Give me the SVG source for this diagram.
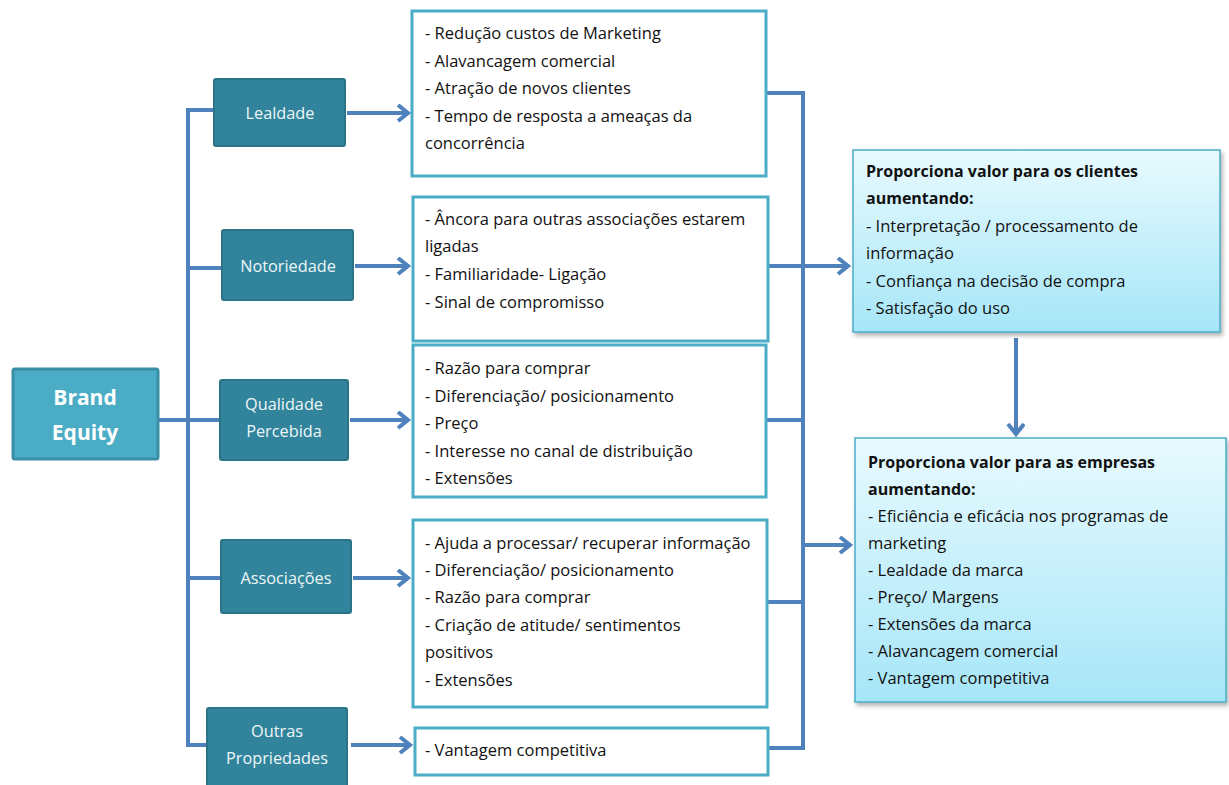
<svg xmlns="http://www.w3.org/2000/svg" width="1229" height="785" viewBox="0 0 1229 785">
  <defs>
    <marker id="arrow" markerUnits="userSpaceOnUse" markerWidth="16" markerHeight="20" refX="12" refY="9" orient="auto">
      <path d="M2,1 L12,9 L2,17" fill="none" stroke="#4f81bd" stroke-width="4" stroke-linejoin="miter"/>
    </marker>
    <linearGradient id="lightFill" x1="0" y1="0" x2="0" y2="1">
      <stop offset="0" stop-color="#e8fafe"/>
      <stop offset="1" stop-color="#a6e6f8"/>
    </linearGradient>
    <filter id="shadow" x="-5%" y="-5%" width="115%" height="115%">
      <feDropShadow dx="2" dy="3" stdDeviation="2" flood-color="#000" flood-opacity="0.3"/>
    </filter>
  </defs>
  <style>
    .conn { fill: none; stroke: #4f81bd; stroke-width: 4; }
    .node rect { fill: #31849b; stroke: #2b7488; stroke-width: 2; }
    .node text { fill: #eef6f8; font-family: "Open Sans", "Liberation Sans", sans-serif; font-size: 16.3px; text-anchor: middle; }
    .list rect { fill: #ffffff; stroke: #4bacc6; stroke-width: 3; }
    .list text { fill: #111111; font-family: "Open Sans", "Liberation Sans", sans-serif; font-size: 16.5px; }
    .value rect { fill: url(#lightFill); stroke: #4bacc6; stroke-width: 1.5; filter: url(#shadow); }
    .value text { fill: #111111; font-family: "Open Sans", "Liberation Sans", sans-serif; font-size: 16.5px; }
    .value .head { font-weight: bold; font-size: 16px; }
  </style>

  <rect width="1229" height="785" fill="#ffffff"/>

  <!-- connectors -->
  <g id="connectors">
    <path class="conn" d="M158,420 H188"/>
    <path class="conn" d="M214,110 H188 V745 H207"/>
    <path class="conn" d="M188,268 H222"/>
    <path class="conn" d="M188,420 H220"/>
    <path class="conn" d="M188,578 H221"/>
    <path class="conn" d="M347,113 H408" marker-end="url(#arrow)"/>
    <path class="conn" d="M355,266 H408" marker-end="url(#arrow)"/>
    <path class="conn" d="M350,420 H408" marker-end="url(#arrow)"/>
    <path class="conn" d="M353,578 H408" marker-end="url(#arrow)"/>
    <path class="conn" d="M351,745 H410" marker-end="url(#arrow)"/>
    <path class="conn" d="M767,93 H803 V748 H768"/>
    <path class="conn" d="M767,420 H803"/>
    <path class="conn" d="M767,602 H803"/>
    <path class="conn" d="M766,266 H848" marker-end="url(#arrow)"/>
    <path class="conn" d="M803,545 H850" marker-end="url(#arrow)"/>
    <path class="conn" d="M1016,338 V434" marker-end="url(#arrow)"/>
  </g>

  <!-- root -->
  <g id="brand-equity">
    <rect x="13" y="369" width="145" height="90" rx="2" fill="#4bacc6" stroke="#3a8ea6" stroke-width="3"/>
    <text x="85" y="405" fill="#ffffff" font-family="Open Sans, Liberation Sans, sans-serif" font-size="21" font-weight="bold" text-anchor="middle">Brand</text>
    <text x="85" y="440" fill="#ffffff" font-family="Open Sans, Liberation Sans, sans-serif" font-size="21" font-weight="bold" text-anchor="middle">Equity</text>
  </g>

  <!-- dimensions -->
  <g id="lealdade" class="node">
    <rect x="214" y="79" width="131" height="67" rx="2"/>
    <text x="280" y="119">Lealdade</text>
  </g>
  <g id="notoriedade" class="node">
    <rect x="222" y="230" width="131" height="70" rx="2"/>
    <text x="288" y="272">Notoriedade</text>
  </g>
  <g id="qualidade" class="node">
    <rect x="220" y="380" width="128" height="80" rx="2"/>
    <text x="284" y="410">Qualidade</text>
    <text x="284" y="437">Percebida</text>
  </g>
  <g id="associacoes" class="node">
    <rect x="221" y="540" width="130" height="73" rx="2"/>
    <text x="286" y="584">Associações</text>
  </g>
  <g id="outras" class="node">
    <rect x="207" y="708" width="140" height="80" rx="2"/>
    <text x="277" y="737">Outras</text>
    <text x="277" y="764">Propriedades</text>
  </g>

  <!-- benefit lists -->
  <g id="lista-lealdade" class="list">
    <rect x="412" y="11" width="354" height="165"/>
    <text x="425" y="39">- Redução custos de Marketing</text>
    <text x="425" y="67">- Alavancagem comercial</text>
    <text x="425" y="94">- Atração de novos clientes</text>
    <text x="425" y="122">- Tempo de resposta a ameaças da</text>
    <text x="425" y="149">concorrência</text>
  </g>
  <g id="lista-notoriedade" class="list">
    <rect x="413" y="197" width="355" height="144"/>
    <text x="425" y="225">- Âncora para outras associações estarem</text>
    <text x="425" y="252">ligadas</text>
    <text x="425" y="280">- Familiaridade- Ligação</text>
    <text x="425" y="308">- Sinal de compromisso</text>
  </g>
  <g id="lista-qualidade" class="list">
    <rect x="413" y="345" width="353" height="152"/>
    <text x="425" y="374">- Razão para comprar</text>
    <text x="425" y="402">- Diferenciação/ posicionamento</text>
    <text x="425" y="429">- Preço</text>
    <text x="425" y="457">- Interesse no canal de distribuição</text>
    <text x="425" y="484">- Extensões</text>
  </g>
  <g id="lista-associacoes" class="list">
    <rect x="413" y="520" width="354" height="187"/>
    <text x="425" y="549">- Ajuda a processar/ recuperar informação</text>
    <text x="425" y="576">- Diferenciação/ posicionamento</text>
    <text x="425" y="603">- Razão para comprar</text>
    <text x="425" y="631">- Criação de atitude/ sentimentos</text>
    <text x="425" y="658">positivos</text>
    <text x="425" y="686">- Extensões</text>
  </g>
  <g id="lista-outras" class="list">
    <rect x="415" y="728" width="353" height="47"/>
    <text x="425" y="756">- Vantagem competitiva</text>
  </g>

  <!-- value outcomes -->
  <g id="valor-clientes" class="value">
    <rect x="853" y="150" width="367" height="182"/>
    <text class="head" x="866" y="177">Proporciona valor para os clientes</text>
    <text class="head" x="866" y="204">aumentando:</text>
    <text x="866" y="232">- Interpretação / processamento de</text>
    <text x="866" y="259">informação</text>
    <text x="866" y="287">- Confiança na decisão de compra</text>
    <text x="866" y="314">- Satisfação do uso</text>
  </g>
  <g id="valor-empresas" class="value">
    <rect x="855" y="438" width="371" height="264"/>
    <text class="head" x="868" y="468">Proporciona valor para as empresas</text>
    <text class="head" x="868" y="495">aumentando:</text>
    <text x="868" y="522">- Eficiência e eficácia nos programas de</text>
    <text x="868" y="549">marketing</text>
    <text x="868" y="576">- Lealdade da marca</text>
    <text x="868" y="603">- Preço/ Margens</text>
    <text x="868" y="630">- Extensões da marca</text>
    <text x="868" y="657">- Alavancagem comercial</text>
    <text x="868" y="684">- Vantagem competitiva</text>
  </g>
</svg>
